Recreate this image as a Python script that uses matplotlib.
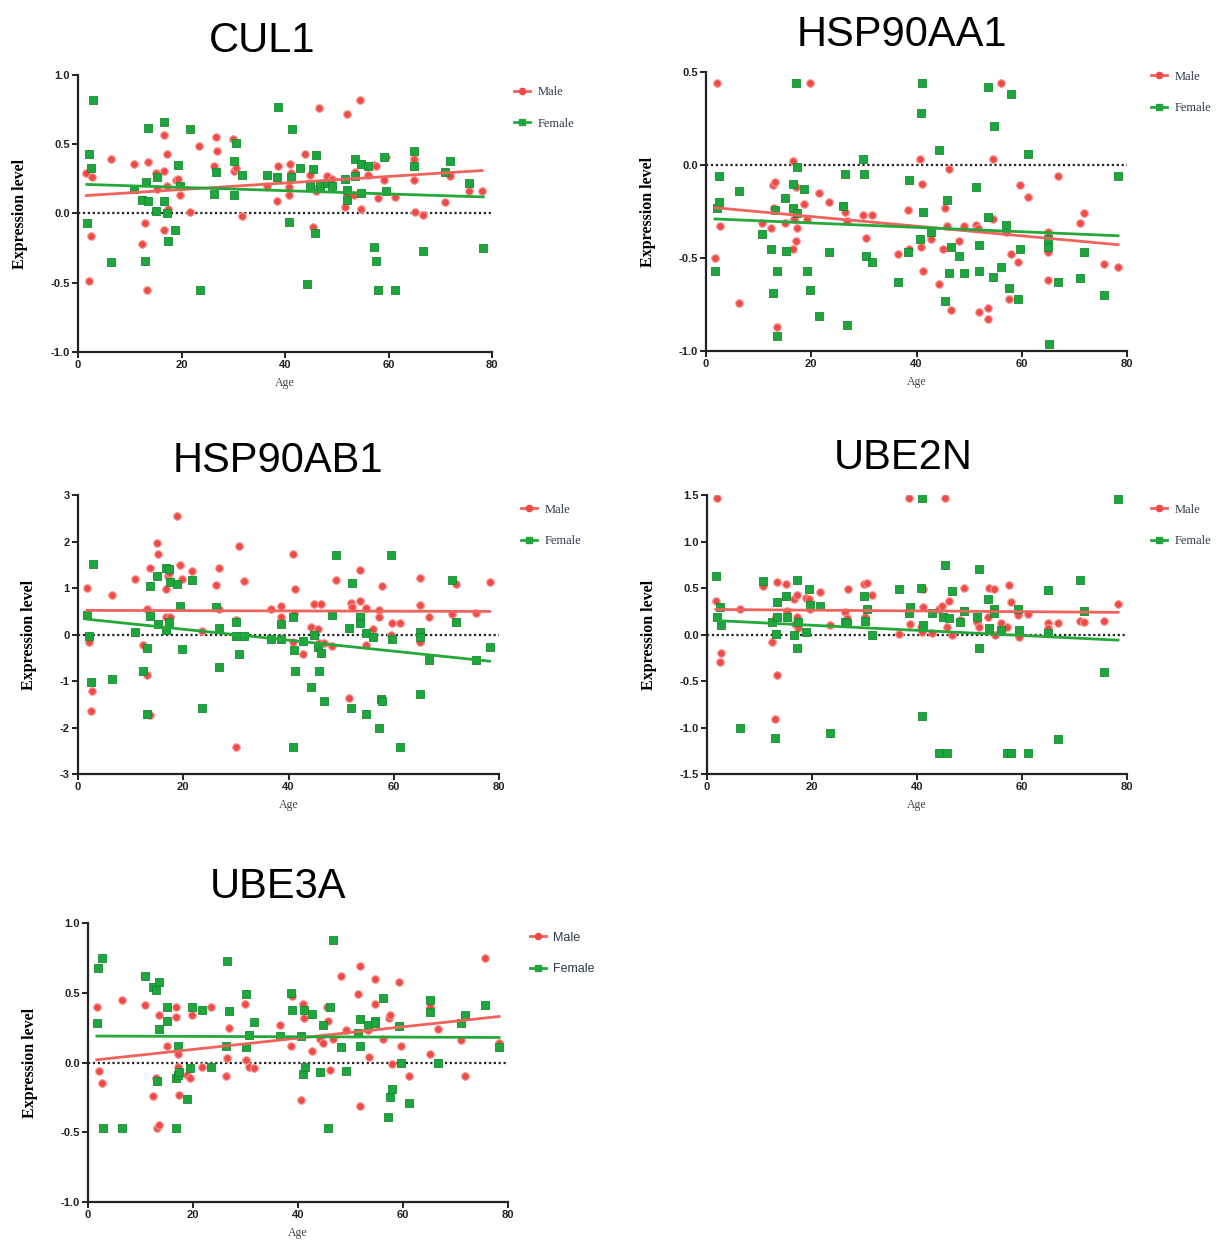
import numpy as np
import matplotlib
matplotlib.use("Agg")
import matplotlib.pyplot as plt
from matplotlib.lines import Line2D

# ---- data (age, expression level) ----
cul1_m_age = [1.6, 2.7, 2.6, 2.1, 6.4, 10.8, 12.3, 13.0, 13.3, 13.5, 15.1, 15.2, 16.7, 16.7, 16.7, 17.1, 17.2, 17.3,
              18.9, 19.3, 19.8, 21.6, 23.3, 26.3, 26.6, 26.9, 29.9, 30.1, 30.5, 31.6, 36.6, 38.5, 38.6, 40.8, 40.8,
              41.0, 41.2, 43.9, 44.8, 45.4, 45.8, 46.0, 46.5, 48.2, 49.1, 51.5, 51.9, 52.0, 53.3, 53.6, 54.5, 54.6,
              56.1, 57.2, 57.5, 57.9, 59.2, 59.6, 61.2, 64.9, 65.0, 65.1, 66.7, 71.0, 71.9, 75.6, 78.1]
cul1_m_val = [0.29, 0.26, -0.16, -0.49, 0.39, 0.36, -0.22, -0.07, -0.55, 0.37, 0.29, 0.18, 0.57, 0.31, -0.12, 0.43,
              0.20, 0.03, 0.24, 0.25, 0.13, 0.01, 0.49, 0.34, 0.55, 0.45, 0.54, 0.31, 0.33, -0.02, 0.20, 0.09, 0.34,
              0.19, 0.13, 0.36, 0.29, 0.43, 0.28, -0.10, 0.18, 0.16, 0.76, 0.27, 0.25, 0.05, 0.72, 0.13, 0.13, 0.30,
              0.82, 0.03, 0.28, 0.35, 0.34, 0.11, 0.24, 0.41, 0.12, 0.39, 0.24, 0.01, -0.01, 0.08, 0.27, 0.16, 0.16]
cul1_f_age = [1.7, 2.1, 2.6, 2.8, 6.4, 10.8, 12.3, 13.0, 13.2, 13.5, 13.5, 15.1, 15.2, 16.7, 16.7, 17.1, 17.3, 18.8,
              19.3, 19.8, 21.6, 23.5, 26.3, 26.7, 30.1, 30.1, 30.5, 31.6, 36.6, 38.5, 38.6, 40.8, 41.1, 41.3, 42.8,
              44.2, 44.8, 45.4, 45.8, 46.0, 46.7, 48.2, 49.1, 51.5, 51.9, 52.0, 53.5, 53.5, 54.6, 54.6, 56.1, 57.2,
              57.5, 57.9, 59.2, 59.6, 61.2, 64.9, 65.0, 66.7, 71.0, 71.9, 75.6, 78.3]
cul1_f_val = [-0.07, 0.43, 0.33, 0.82, -0.35, 0.18, 0.10, -0.34, 0.23, 0.09, 0.62, 0.02, 0.26, 0.66, 0.09, 0.00, -0.20,
              -0.12, 0.35, 0.20, 0.61, -0.55, 0.14, 0.30, 0.13, 0.38, 0.51, 0.28, 0.28, 0.26, 0.77, -0.06, 0.26, 0.61,
              0.33, -0.51, 0.20, 0.32, -0.14, 0.42, 0.20, 0.22, 0.20, 0.25, 0.17, 0.10, 0.27, 0.39, 0.36, 0.15, 0.34,
              -0.24, -0.34, -0.55, 0.41, 0.16, -0.55, 0.45, 0.34, -0.27, 0.30, 0.38, 0.22, -0.25]

aa1_m_age = [2.0, 2.5, 2.7, 1.7, 6.3, 10.7, 12.3, 12.8, 13.2, 13.0, 13.5, 15.0, 15.2, 16.6, 16.6, 16.7, 17.1, 17.2,
             17.1, 18.7, 19.2, 19.7, 21.4, 23.4, 26.1, 26.5, 26.8, 29.9, 30.4, 31.5, 36.5, 38.4, 38.6, 40.6, 40.9,
             41.0, 41.2, 42.8, 44.2, 45.0, 45.4, 45.7, 46.1, 46.6, 48.1, 49.0, 51.4, 51.7, 51.9, 53.5, 53.6, 54.6,
             54.6, 56.0, 57.1, 57.5, 57.9, 59.3, 59.7, 61.2, 65.0, 65.0, 65.0, 66.8, 71.1, 71.9, 75.6, 78.3]
aa1_m_val = [0.44, -0.06, -0.33, -0.50, -0.74, -0.31, -0.34, -0.11, -0.09, -0.23, -0.87, -0.31, -0.46, 0.02, -0.45,
             -0.29, -0.12, -0.34, -0.41, -0.21, -0.29, 0.44, -0.15, -0.20, -0.22, -0.25, -0.30, -0.27, -0.39, -0.27,
             -0.48, -0.24, -0.45, 0.03, -0.44, -0.10, -0.57, -0.40, -0.64, -0.45, -0.23, -0.33, -0.02, -0.78, -0.41,
             -0.33, -0.32, -0.34, -0.79, -0.77, -0.83, -0.29, 0.03, 0.44, -0.36, -0.72, -0.48, -0.52, -0.11, -0.17,
             -0.36, -0.47, -0.62, -0.06, -0.31, -0.26, -0.53, -0.55]
aa1_f_age = [1.7, 2.0, 2.4, 2.5, 6.2, 10.7, 12.3, 12.8, 13.1, 13.4, 13.4, 15.0, 15.2, 16.6, 16.6, 17.1, 17.2, 17.2,
             18.7, 19.2, 19.7, 21.4, 23.4, 26.4, 26.8, 26.1, 29.9, 30.1, 30.4, 31.5, 36.5, 38.4, 38.6, 40.6, 40.9,
             41.0, 41.2, 42.8, 44.2, 45.4, 45.7, 46.1, 46.6, 48.1, 49.0, 51.4, 51.9, 51.9, 53.5, 53.6, 54.6, 54.7,
             56.1, 57.1, 57.5, 57.9, 59.3, 59.7, 61.2, 65.0, 65.0, 65.1, 66.8, 71.1, 71.9, 75.6, 78.3]
aa1_f_val = [-0.57, -0.23, -0.20, -0.06, -0.14, -0.37, -0.45, -0.69, -0.24, -0.57, -0.92, -0.18, -0.46, -0.10, -0.23,
             0.44, -0.01, -0.26, -0.13, -0.57, -0.67, -0.81, -0.47, -0.05, -0.86, -0.22, 0.03, -0.05, -0.49, -0.52,
             -0.63, -0.47, -0.08, -0.40, 0.28, 0.44, -0.25, -0.36, 0.08, -0.73, -0.19, -0.58, -0.44, -0.49, -0.58,
             -0.12, -0.43, -0.57, 0.42, -0.28, -0.60, 0.21, -0.55, -0.32, -0.66, 0.38, -0.72, -0.45, 0.06, -0.40,
             -0.44, -0.96, -0.63, -0.61, -0.47, -0.70, -0.06]

ab1_m_age = [1.7, 2.1, 2.7, 2.5, 6.5, 10.8, 12.3, 13.1, 13.2, 13.6, 13.6, 15.1, 15.2, 16.7, 16.8, 17.1, 17.2, 17.4,
             18.8, 19.3, 19.8, 21.7, 23.6, 26.3, 26.7, 26.8, 30.1, 30.1, 30.6, 31.6, 36.6, 38.6, 38.6, 40.8, 40.9,
             41.2, 41.1, 42.8, 44.3, 44.9, 45.6, 45.8, 46.2, 46.7, 48.2, 49.1, 51.4, 51.8, 52.0, 53.5, 53.6, 54.7,
             54.7, 56.1, 57.2, 57.2, 57.8, 59.4, 59.6, 61.2, 65.0, 65.0, 65.0, 66.7, 71.1, 71.8, 75.6, 78.2]
ab1_m_val = [1.01, -0.17, -1.22, -1.64, 0.86, 1.19, -0.23, 0.56, -0.86, 1.44, -1.74, 1.97, 1.74, 0.99, 0.37, 1.25,
             1.32, 0.38, 2.54, 1.49, 1.20, 1.37, 0.07, 1.06, 0.54, 1.44, 0.32, -2.41, 1.91, 1.15, 0.56, 0.61, 0.38,
             1.74, -0.17, 0.97, 0.45, -0.41, 0.17, 0.65, 0.11, -0.18, 0.65, -0.18, -0.25, 1.17, -1.36, 0.68, 0.60,
             0.72, 1.39, 0.58, -0.22, 0.12, 0.53, 0.38, 1.04, -0.02, 0.25, 0.25, 1.21, 0.63, -0.17, 0.38, 0.44, 1.09,
             0.47, 1.14]
ab1_f_age = [1.7, 2.1, 2.5, 2.8, 6.5, 10.8, 12.4, 13.2, 13.2, 13.6, 13.6, 15.1, 15.2, 16.7, 16.8, 17.2, 17.2, 17.5,
             18.8, 19.3, 19.8, 21.7, 23.6, 26.3, 26.7, 26.8, 30.1, 30.1, 30.6, 31.6, 36.6, 38.6, 38.6, 40.8, 40.9,
             41.1, 41.2, 42.8, 44.3, 44.9, 45.6, 45.8, 46.2, 46.7, 48.2, 49.1, 51.4, 51.8, 52.0, 53.5, 53.6, 54.7,
             54.7, 56.1, 57.2, 57.6, 57.8, 59.4, 59.6, 61.2, 65.0, 65.0, 65.0, 66.7, 71.1, 71.8, 75.6, 78.2]
ab1_f_val = [0.43, -0.04, -1.03, 1.51, -0.96, 0.06, -0.79, -0.29, -1.71, 1.04, 0.40, 1.26, 0.22, 0.09, 1.43, 1.40,
             0.27, 1.14, 1.09, 0.61, -0.32, 1.17, -1.59, 0.60, -0.70, 0.13, 0.27, -0.03, -0.41, -0.03, -0.09, 0.22,
             -0.09, 0.38, -2.41, -0.34, -0.79, -0.14, -1.12, 0.00, -0.27, -0.79, -0.40, -1.42, 0.41, 1.71, 0.14,
             -1.59, 1.10, 0.38, 0.24, -1.71, 0.04, -0.05, -2.01, -1.38, -1.43, 1.71, -0.09, -2.41, 0.06, -1.28,
             -0.05, -0.55, 1.17, 0.27, -0.55, -0.27]

ube2n_m_age = [2.0, 1.7, 2.4, 2.7, 6.3, 10.7, 12.3, 13.0, 13.2, 13.4, 13.4, 15.0, 15.2, 16.6, 16.8, 17.1, 17.2, 17.4,
               18.8, 19.4, 19.7, 21.6, 23.4, 26.3, 26.8, 26.6, 29.9, 30.4, 30.1, 31.5, 36.5, 38.4, 38.6, 40.8, 40.9,
               41.2, 41.2, 42.8, 44.2, 44.8, 45.4, 45.7, 46.1, 46.6, 48.1, 49.0, 51.5, 51.9, 53.5, 53.7, 54.6, 54.8,
               56.0, 57.1, 57.5, 57.9, 59.2, 59.5, 61.1, 65.0, 65.0, 66.8, 71.1, 71.9, 75.6, 78.3]
ube2n_m_val = [1.47, 0.36, -0.30, -0.20, 0.28, 0.52, -0.08, -0.91, 0.19, 0.56, -0.43, 0.54, 0.25, 0.38, 0.11, 0.42,
               0.19, 0.07, 0.39, 0.38, 0.28, 0.46, 0.10, 0.24, 0.49, 0.18, 0.54, 0.55, 0.19, 0.43, 0.01, 1.47, 0.11,
               0.08, 0.03, 0.49, 0.30, 0.02, 0.28, 0.31, 1.47, 0.08, 0.36, 0.00, 0.16, 0.50, 0.14, 0.08, 0.19, 0.50,
               0.49, 0.00, 0.12, 0.08, 0.53, 0.35, 0.21, -0.03, 0.22, 0.12, 0.07, 0.12, 0.15, 0.13, 0.15, 0.33]
ube2n_f_age = [1.7, 2.0, 2.4, 2.7, 6.3, 10.7, 12.3, 13.0, 13.2, 13.4, 13.4, 15.0, 15.2, 16.6, 17.1, 17.2, 17.4, 18.8,
               19.4, 19.7, 21.6, 23.4, 26.3, 26.6, 29.9, 30.4, 30.1, 31.5, 36.5, 38.4, 38.6, 40.8, 40.9, 41.0, 41.2,
               42.8, 44.2, 44.9, 45.4, 45.7, 46.1, 46.6, 48.1, 49.0, 51.5, 51.9, 51.9, 53.5, 53.7, 54.6, 54.6, 56.0,
               57.1, 57.9, 59.2, 59.5, 61.1, 65.0, 65.0, 66.8, 71.1, 71.9, 75.6, 78.3]
ube2n_f_val = [0.63, 0.19, 0.30, 0.10, -1.01, 0.58, 0.14, -1.11, 0.01, 0.35, 0.19, 0.41, 0.19, 0.00, -0.15, 0.59,
               0.14, 0.03, 0.49, 0.32, 0.31, -1.06, 0.13, 0.12, 0.41, 0.28, 0.15, -0.01, 0.49, 0.23, 0.30, 0.50,
               -0.88, 1.47, 0.10, 0.23, -1.27, 0.19, 0.75, -1.27, 0.18, 0.47, 0.13, 0.25, 0.19, 0.70, -0.15, 0.38,
               0.07, 0.27, 0.23, 0.05, -1.27, -1.27, 0.28, 0.05, -1.27, 0.48, 0.02, -1.12, 0.59, 0.25, -0.40, 1.46]

ube3a_m_age = [1.7, 2.1, 2.7, 6.4, 10.8, 12.3, 13.0, 13.2, 13.5, 13.5, 15.1, 16.7, 16.8, 17.1, 17.2, 17.3, 18.8, 19.4,
               19.9, 21.7, 23.5, 26.2, 26.5, 26.9, 30.0, 30.1, 30.6, 31.6, 36.6, 38.6, 38.8, 40.6, 41.0, 41.2, 42.7,
               44.2, 44.8, 45.5, 45.8, 46.1, 46.7, 48.2, 49.1, 51.5, 51.9, 51.9, 53.4, 53.6, 54.6, 54.6, 56.1, 57.4,
               57.6, 57.9, 59.3, 59.6, 61.2, 65.1, 65.1, 66.7, 71.1, 71.9, 75.6, 78.3]
ube3a_m_val = [0.40, -0.06, -0.15, 0.45, 0.41, -0.24, -0.11, -0.47, -0.45, 0.34, 0.12, 0.40, 0.33, 0.06, -0.03, -0.23,
               -0.09, -0.11, 0.34, -0.03, 0.40, -0.10, 0.03, 0.25, 0.42, 0.02, -0.03, -0.04, 0.27, 0.12, 0.48, -0.27,
               0.42, 0.32, 0.08, 0.17, 0.14, 0.40, 0.30, -0.05, 0.17, 0.62, 0.23, 0.49, 0.69, -0.31, 0.23, 0.04, 0.60,
               0.42, 0.17, 0.32, 0.34, -0.01, 0.58, 0.12, -0.10, 0.06, 0.40, 0.24, 0.16, -0.10, 0.75, 0.14]
ube3a_f_age = [1.7, 2.0, 2.6, 2.9, 6.4, 10.8, 12.3, 13.0, 13.1, 13.5, 13.5, 15.1, 15.1, 16.7, 16.8, 17.1, 17.2, 17.3,
               18.8, 19.4, 19.9, 21.7, 23.5, 26.5, 26.2, 26.9, 30.1, 30.1, 30.6, 31.6, 36.6, 38.6, 38.8, 40.6, 40.9,
               41.2, 41.3, 42.7, 44.2, 44.8, 45.8, 46.1, 46.7, 48.2, 49.1, 51.5, 51.9, 51.9, 53.4, 54.6, 54.6, 56.1,
               57.2, 57.6, 57.9, 59.3, 59.7, 61.2, 65.1, 65.1, 66.7, 71.1, 71.9, 75.6, 78.3]
ube3a_f_val = [0.28, 0.68, 0.75, -0.47, -0.47, 0.62, 0.54, 0.52, -0.13, 0.58, 0.24, 0.40, 0.30, -0.11, -0.47, -0.09,
               0.12, -0.07, -0.26, -0.04, 0.40, 0.38, -0.03, 0.73, 0.12, 0.37, 0.49, 0.11, 0.20, 0.29, 0.19, 0.50,
               0.38, 0.19, -0.08, 0.38, -0.03, 0.35, -0.07, 0.27, -0.47, 0.40, 0.88, 0.11, -0.06, 0.21, 0.12, 0.31,
               0.27, 0.30, 0.28, 0.46, -0.39, -0.25, -0.19, 0.26, 0.00, -0.29, 0.45, 0.36, 0.00, 0.28, 0.34, 0.41, 0.11]

# regression lines as drawn (intercept, slope)
cul1_fit = {"m": (0.126, 0.00236), "f": (0.212, -0.00118)}
aa1_fit = {"m": (-0.225, -0.0026), "f": (-0.288, -0.00118)}
ab1_fit = {"m": (0.52, -0.0003), "f": (0.35, -0.0118)}
ube2n_fit = {"m": (0.27, -0.0004), "f": (0.155, -0.00275)}
ube3a_fit = {"m": (0.013, 0.00405), "f": (0.19, -0.00013)}

genes = ["CUL1", "HSP90AA1", "HSP90AB1", "UBE2N", "UBE3A"]
y_ranges = [(-1.0, 1.0), (-1.0, 0.5), (-3, 3), (-1.5, 1.5), (-1.0, 1.0)]
y_steps = [0.5, 0.5, 1, 0.5, 0.5]

RED = "#ef4a48"
RED_EDGE = "#f79a94"
RED_LINE = "#f0625c"
GREEN = "#1fa53e"
GREEN_EDGE = "#158a2e"
GREEN_LINE = "#25a83a"

fig = plt.figure(figsize=(12.27, 12.42), dpi=100)

# axes boxes in figure fractions, title centre (x, y), legend anchor
boxes = [
    (0.0636, 0.7166, 0.3374, 0.2230),
    (0.5754, 0.7174, 0.3431, 0.2246),
    (0.0636, 0.3768, 0.3431, 0.2246),
    (0.5762, 0.3768, 0.3423, 0.2246),
    (0.0717, 0.0322, 0.3423, 0.2246),
]
title_pos = [(0.2135, 0.967), (0.735, 0.972), (0.2265, 0.629), (0.736, 0.631), (0.2265, 0.286)]
legend_anchor = [(1.025, 1.0), (1.03, 1.045), (1.025, 1.01), (1.03, 1.01), (1.025, 1.01)]

data = [
    (cul1_m_age, cul1_m_val, cul1_f_age, cul1_f_val, cul1_fit),
    (aa1_m_age, aa1_m_val, aa1_f_age, aa1_f_val, aa1_fit),
    (ab1_m_age, ab1_m_val, ab1_f_age, ab1_f_val, ab1_fit),
    (ube2n_m_age, ube2n_m_val, ube2n_f_age, ube2n_f_val, ube2n_fit),
    (ube3a_m_age, ube3a_m_val, ube3a_f_age, ube3a_f_val, ube3a_fit),
]

for i, gene in enumerate(genes):
    ax = fig.add_axes(boxes[i])
    m_age, m_val, f_age, f_val, fit = data[i]
    lo, hi = y_ranges[i]

    ax.axhline(0, xmin=0, xmax=1, color="#222222", linestyle=(0, (1, 1.2)), lw=1.6, zorder=1)

    ax.scatter(m_age, m_val, s=30, marker="o", color=RED, edgecolors=RED_EDGE, linewidths=0.8, zorder=3)
    ax.scatter(f_age, f_val, s=38, marker="s", color=GREEN, edgecolors=GREEN_EDGE, linewidths=0.6, zorder=3)

    for key, ages, col in (("m", m_age, RED_LINE), ("f", f_age, GREEN_LINE)):
        b0, b1 = fit[key]
        xs = np.array([min(ages), max(ages)])
        ax.plot(xs, b0 + b1 * xs, color=col, lw=2.0, zorder=4)

    ax.set_xlim(0, 80)
    ax.set_ylim(lo, hi)
    ax.set_xticks([0, 20, 40, 60, 80])
    ax.set_yticks(np.arange(lo, hi + y_steps[i] / 2, y_steps[i]))
    if y_steps[i] == 1:
        ax.set_yticklabels([f"{int(v)}" for v in ax.get_yticks()])
    else:
        ax.set_yticklabels([f"{v:.1f}" for v in ax.get_yticks()])

    for s in ("top", "right"):
        ax.spines[s].set_visible(False)
    for s in ("left", "bottom"):
        ax.spines[s].set_linewidth(1.6)
        ax.spines[s].set_color("#222222")
    ax.tick_params(direction="out", length=4, width=1.4, colors="#222222", labelsize=8, pad=2)
    for lab in ax.get_xticklabels() + ax.get_yticklabels():
        lab.set_fontweight("bold")
        lab.set_family("Liberation Sans")

    ax.set_xlabel("Age", family="Liberation Serif", fontsize=8.5, color="#444444", labelpad=5)
    ax.set_ylabel("Expression level", family="Liberation Serif", fontweight="bold", fontsize=11.5, labelpad=16)
    ax.set_facecolor("white")

    leg_font = "Liberation Sans" if gene == "UBE3A" else "Liberation Serif"
    handles = [
        Line2D([], [], color=RED_LINE, lw=2, marker="o", markersize=4.5, markerfacecolor=RED, markeredgecolor=RED),
        Line2D([], [], color=GREEN_LINE, lw=2, marker="s", markersize=4.5, markerfacecolor=GREEN,
               markeredgecolor=GREEN),
    ]
    ax.legend(handles, ["Male", "Female"], loc="upper left", bbox_to_anchor=legend_anchor[i], frameon=False,
              prop={"family": leg_font, "size": 9}, handlelength=1.3, labelspacing=1.55, handletextpad=0.6,
              labelcolor="#2a3a4a")

    fig.text(title_pos[i][0], title_pos[i][1], gene, ha="center", va="center", fontsize=30,
             family="Liberation Sans")

fig.savefig("out.png", dpi=100, facecolor="white")
